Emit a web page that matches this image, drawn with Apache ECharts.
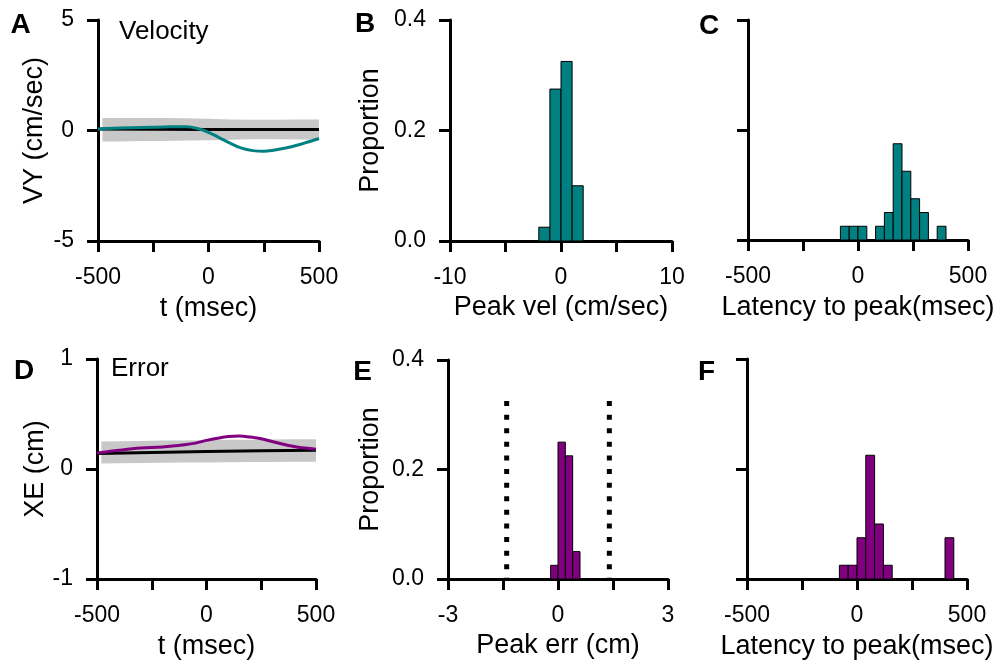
<!DOCTYPE html>
<html>
<head>
<meta charset="utf-8">
<script src="https://cdn.jsdelivr.net/npm/echarts@6/dist/echarts.min.js"></script>
<style>html,body{margin:0;padding:0;background:#fff}#c{width:1002px;height:661px}</style>
</head>
<body>
<div id="c"></div>
<script>
// ---------- Data ----------
// Panel A: velocity traces
const tVel = [-500,-400,-300,-200,-150,-100,-50,0,50,100,150,200,250,300,350,400,450,500];
const vyTrace = [0.07,0.11,0.14,0.16,0.17,0.17,0.09,-0.08,-0.33,-0.58,-0.8,-0.91,-0.94,-0.88,-0.79,-0.67,-0.52,-0.36];
const tMean = [-500,-250,0,250,500];
const vyMean = [0.07,0.06,0.05,0.05,0.05];
const tBand = [-480,-400,-300,-200,-100,0,100,200,300,400,500];
const vyBandUpper = [0.57,0.57,0.57,0.56,0.55,0.53,0.5,0.49,0.49,0.5,0.5];
const vyBandLower = [-0.5,-0.5,-0.48,-0.47,-0.45,-0.44,-0.42,-0.4,-0.4,-0.41,-0.42];

// Panel D: error traces
const tErr = [-500,-400,-300,-200,-100,-50,0,50,100,150,200,250,300,350,400,450,500];
const xeTrace = [0.145,0.17,0.19,0.2,0.22,0.235,0.26,0.28,0.295,0.3,0.29,0.275,0.25,0.225,0.205,0.19,0.18];
const xeMean = [0.14,0.15,0.16,0.165,0.17];
const xeBandUpper = [0.25,0.252,0.255,0.258,0.26,0.262,0.265,0.267,0.268,0.27,0.27];
const xeBandLower = [0.05,0.052,0.054,0.056,0.058,0.06,0.062,0.063,0.064,0.065,0.066];

// Panel B: peak velocity histogram
const peakVelBinStart = [-2,-1,0,1];
const peakVelBinWidth = 1;
const peakVelProp = [0.025,0.275,0.325,0.1];

// Panel C: latency to peak velocity
const latVelBinStart = [-80,-40,0,80,120,160,200,240,280,360];
const latVelBinWidth = 40;
const latVelProp = [0.025,0.025,0.025,0.025,0.05,0.175,0.125,0.075,0.05,0.025];

// Panel E: peak error histogram
const peakErrBinStart = [-0.2,0,0.2,0.4];
const peakErrBinWidth = 0.2;
const peakErrProp = [0.025,0.25,0.225,0.05];
const errThreshold = [-1.4, 1.4];
const errThresholdTop = 0.325;

// Panel F: latency to peak error
const latErrBinStart = [-80,-40,0,40,80,120,400];
const latErrBinWidth = 40;
const latErrProp = [0.025,0.025,0.075,0.225,0.1,0.025,0.075];

// Tick labels shown
const timeLabels = [-500,0,500];
const velLabels = [-10,0,10];
const errLabels = [-3,0,3];

// ---------- Styling ----------
const FONT = "'Liberation Sans', Arial, Helvetica, sans-serif";
const TEAL = '#008080';
const PURPLE = '#800080';
const BAND = '#c8c8c8';

const axisLineStyle = {show:true, onZero:false, lineStyle:{color:'#000', width:3}};
const axisTickStyle = {show:true, length:11, lineStyle:{color:'#000', width:3}};

function xAxis(grid, min, max, interval, labels, name, nameGap){
  return {type:'value', gridIndex:grid, min, max, interval,
    axisLine:axisLineStyle, axisTick:axisTickStyle, splitLine:{show:false},
    axisLabel:{margin:25, color:'#000', fontSize:23, fontFamily:FONT,
      formatter:v=>labels.some(l=>Math.abs(l-v)<1e-9)?String(v):''},
    name, nameLocation:'middle', nameGap,
    nameTextStyle:{color:'#000', fontSize:27, fontFamily:FONT}};
}
function yAxis(grid, min, max, interval, fmt, name, nameGap){
  return {type:'value', gridIndex:grid, min, max, interval,
    axisLine:axisLineStyle, axisTick:axisTickStyle, splitLine:{show:false},
    axisLabel:{show:!!fmt, margin:24, color:'#000', fontSize:23, fontFamily:FONT, formatter:fmt||undefined},
    name, nameLocation:'middle', nameGap,
    nameTextStyle:{color:'#000', fontSize:27, fontFamily:FONT}};
}
const pairs = (xs, ys) => xs.map((x,i)=>[x, ys[i]]);

function bandSeries(idx, t, lo, hi){
  return {type:'custom', xAxisIndex:idx, yAxisIndex:idx, silent:true, z:1,
    data: t.map((x,i)=>[x, lo[i], hi[i]]),
    renderItem:(params, api)=>{
      if (params.dataIndex !== 0) return null;
      const top = t.map((x,i)=>api.coord([x, hi[i]]));
      const bot = t.map((x,i)=>api.coord([x, lo[i]])).reverse();
      return {type:'polygon', shape:{points: top.concat(bot)}, style:{fill:BAND}};
    }};
}
function histSeries(idx, starts, width, props, color){
  return {type:'custom', xAxisIndex:idx, yAxisIndex:idx,
    data: starts.map((s,i)=>[s, s+width, props[i]]),
    renderItem:(params, api)=>{
      const p0 = api.coord([api.value(0), api.value(2)]);
      const p1 = api.coord([api.value(1), 0]);
      return {type:'rect', shape:{x:p0[0], y:p0[1], width:p1[0]-p0[0], height:p1[1]-p0[1]},
        style:{fill:color, stroke:'#000', lineWidth:1}};
    }, z:3};
}

const grids = [
  {left:98, top:20, width:221, height:221},
  {left:450, top:20, width:222, height:221},
  {left:748, top:20, width:220, height:220},
  {left:97, top:359, width:219, height:220},
  {left:448, top:360, width:220, height:219},
  {left:747, top:359, width:220, height:220}
].map(g=>Object.assign({containLabel:false, outerBoundsMode:'none'}, g));

const fmt1 = v=>v.toFixed(1);
const fmt0 = v=>String(v);

const option = {
  animation:false,
  backgroundColor:'#fff',
  grid: grids,
  xAxis: [
    xAxis(0,-500,500,250,timeLabels,'t (msec)',54),
    xAxis(1,-10,10,5,velLabels,'Peak vel (cm/sec)',53),
    xAxis(2,-500,500,250,timeLabels,'Latency to peak(msec)',54),
    xAxis(3,-500,500,250,timeLabels,'t (msec)',54),
    xAxis(4,-3,3,1.5,errLabels,'Peak err (cm)',53),
    xAxis(5,-500,500,250,timeLabels,'Latency to peak(msec)',54)
  ],
  yAxis: [
    yAxis(0,-5,5,5,fmt0,'VY (cm/sec)',50),
    yAxis(1,0,0.4,0.2,fmt1,'Proportion',66),
    yAxis(2,0,0.4,0.2,null,'',0),
    yAxis(3,-1,1,1,fmt0,'XE (cm)',47),
    yAxis(4,0,0.4,0.2,fmt1,'Proportion',64),
    yAxis(5,0,0.4,0.2,null,'',0)
  ],
  series: [
    bandSeries(0, tBand, vyBandLower, vyBandUpper),
    {type:'line', xAxisIndex:0, yAxisIndex:0, data:pairs(tMean, vyMean), symbol:'none',
      lineStyle:{color:'#000', width:3}, z:2},
    {type:'line', xAxisIndex:0, yAxisIndex:0, data:pairs(tVel, vyTrace), symbol:'none', smooth:0.4,
      lineStyle:{color:TEAL, width:3}, z:3},
    bandSeries(3, tBand, xeBandLower, xeBandUpper),
    {type:'line', xAxisIndex:3, yAxisIndex:3, data:pairs(tMean, xeMean), symbol:'none',
      lineStyle:{color:'#000', width:3}, z:2},
    {type:'line', xAxisIndex:3, yAxisIndex:3, data:pairs(tErr, xeTrace), symbol:'none', smooth:0.4,
      lineStyle:{color:PURPLE, width:3}, z:3},
    histSeries(1, peakVelBinStart, peakVelBinWidth, peakVelProp, TEAL),
    histSeries(2, latVelBinStart, latVelBinWidth, latVelProp, TEAL),
    histSeries(4, peakErrBinStart, peakErrBinWidth, peakErrProp, PURPLE),
    histSeries(5, latErrBinStart, latErrBinWidth, latErrProp, PURPLE),
    ...errThreshold.map(x=>({type:'line', xAxisIndex:4, yAxisIndex:4,
      data:[[x, errThresholdTop],[x, 0]], symbol:'none',
      lineStyle:{color:'#000', width:5, type:[5,8.6], cap:'butt'}, z:2}))
  ],
  graphic: [
    {type:'text', x:20.5, y:25, style:{text:'A', font:"bold 28px "+FONT, fill:'#000', align:'center', verticalAlign:'middle'}},
    {type:'text', x:365, y:24, style:{text:'B', font:"bold 28px "+FONT, fill:'#000', align:'center', verticalAlign:'middle'}},
    {type:'text', x:709, y:26, style:{text:'C', font:"bold 28px "+FONT, fill:'#000', align:'center', verticalAlign:'middle'}},
    {type:'text', x:24, y:371.5, style:{text:'D', font:"bold 28px "+FONT, fill:'#000', align:'center', verticalAlign:'middle'}},
    {type:'text', x:362.5, y:372.5, style:{text:'E', font:"bold 28px "+FONT, fill:'#000', align:'center', verticalAlign:'middle'}},
    {type:'text', x:706.5, y:372.5, style:{text:'F', font:"bold 28px "+FONT, fill:'#000', align:'center', verticalAlign:'middle'}},
    {type:'text', x:119, y:32, style:{text:'Velocity', font:"26px "+FONT, fill:'#000', align:'left', verticalAlign:'middle'}},
    {type:'text', x:111, y:369, style:{text:'Error', font:"26px "+FONT, fill:'#000', align:'left', verticalAlign:'middle'}}
  ]
};
const chart = echarts.init(document.getElementById('c'), null, {renderer:'canvas'});
chart.setOption(option);
</script>
</body>
</html>
